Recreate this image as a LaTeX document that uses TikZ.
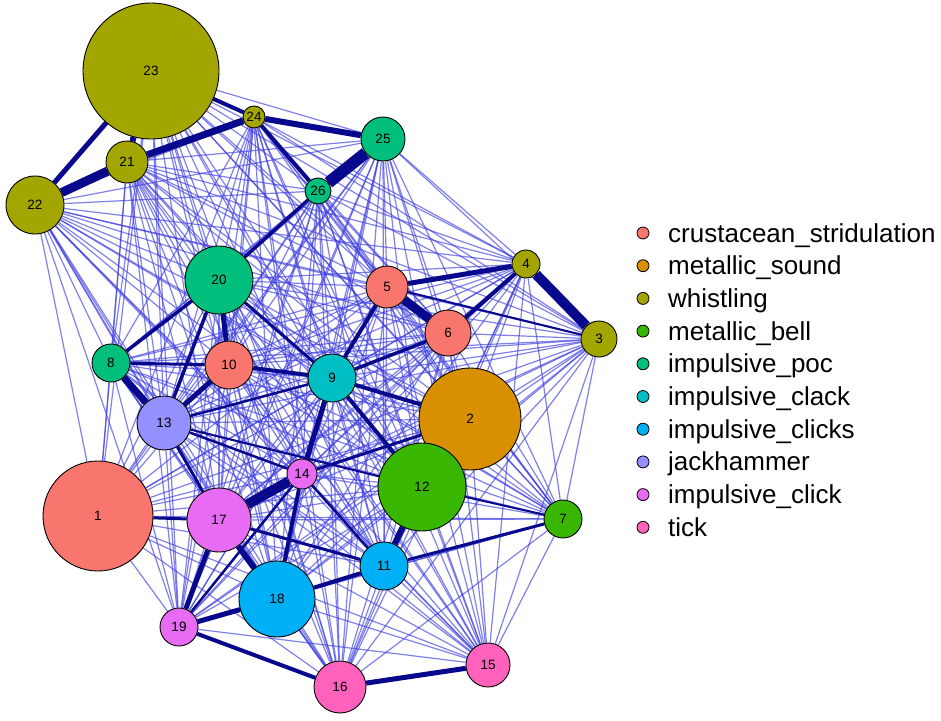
\documentclass[tikz,border=0pt]{standalone}
\usepackage{fontspec}
\setmainfont{Liberation Sans}
\usepackage{tikz}
\pgfdeclarelayer{background}
\pgfsetlayers{background,main}

\definecolor{crust}{HTML}{F8766D}
\definecolor{metsound}{HTML}{D89000}
\definecolor{whist}{HTML}{A3A500}
\definecolor{metbell}{HTML}{39B600}
\definecolor{poc}{HTML}{00BF7D}
\definecolor{clack}{HTML}{00BFC4}
\definecolor{clicks}{HTML}{00B0F6}
\definecolor{jack}{HTML}{9590FF}
\definecolor{click}{HTML}{E76BF3}
\definecolor{tick}{HTML}{FF62BC}
\definecolor{linklight}{RGB}{60,60,225}
\definecolor{linkdark}{RGB}{8,8,140}

\begin{document}
\begin{tikzpicture}[x=1pt,y=-1pt]
% Styles for vertices, links and the key
\tikzstyle{vertex}=[circle, draw=black, line width=0.9pt, inner sep=0pt, font=\fontsize{13.5}{15}\selectfont]
\tikzstyle{thinlink}=[draw=linklight, line width=1.2pt, opacity=0.65]
\tikzstyle{heavylink}=[draw=linkdark]
\tikzstyle{keydot}=[circle, draw=black, line width=0.8pt, inner sep=0pt, minimum size=12pt]
\tikzstyle{keytext}=[anchor=base west, inner sep=0pt, font=\fontsize{26}{30}\selectfont]
\useasboundingbox (0,0) rectangle (941,720);
% Define the 26 vertices: number/x/y/radius/class colour
\foreach \n/\x/\y/\r/\c in {1/98/516/55/crust, 2/470/419/51/metsound, 3/599/339/18/whist,
  4/526/264/14/whist, 5/387/287/21/crust, 6/448/333/23/crust, 7/563/519/19/metbell,
  8/111/363/19/poc, 9/332/378/24/clack, 10/229/365/24/crust, 11/384/566/24/clicks,
  12/422/487/44/metbell, 13/164/423/27/jack, 14/302/474/15/click, 15/488/665/22/tick,
  16/340/687/26/tick, 17/219/520/32/click, 18/277/599/38/clicks, 19/179/627/19/click,
  20/219/280/34/poc, 21/127/162/21/whist, 22/35/205/29/whist, 23/151/71/68/whist,
  24/254/117/11/whist, 25/383/139/22/poc, 26/318/191/13/poc}
  \node [vertex, fill=\c, minimum size={2*\r*1pt}] (v\n) at (\x,\y) {\n};
\begin{pgfonlayer}{background}
% Every pair is linked
\foreach \i in {1,...,25} {
  \pgfmathtruncatemacro\k{\i+1}
  \foreach \j in {\k,...,26}
    \draw [thinlink] (v\i) -- (v\j);
}
% Strong links: from/to/width
\foreach \a/\b/\w in {22/21/9, 22/23/5, 21/23/6, 21/24/7, 23/24/4, 24/25/6, 24/26/4,
  25/26/12, 26/20/3.5, 4/3/10, 4/5/5, 4/6/4, 5/6/9, 5/9/4, 5/3/2, 9/6/3.5, 9/2/4,
  9/12/4, 9/14/5, 9/10/4, 9/20/3, 20/10/5, 20/8/3.5, 20/13/3.5, 8/13/7, 8/10/3,
  10/13/5, 13/17/3, 13/14/2.5, 13/9/2.5, 13/12/2, 14/17/10, 14/18/4, 14/2/3, 14/11/2.5,
  17/18/6, 17/19/5, 17/1/3, 17/11/3, 18/19/5, 18/11/4, 11/12/6, 11/7/3, 12/7/2,
  16/15/5, 16/19/4, 19/14/2.5}
  \draw [heavylink, line width=\w pt] (v\a) -- (v\b);
\end{pgfonlayer}
% Key
\foreach \lab/\c [count=\k from 0] in {crustacean\_stridulation/crust, metallic\_sound/metsound,
  whistling/whist, metallic\_bell/metbell, impulsive\_poc/poc, impulsive\_clack/clack,
  impulsive\_clicks/clicks, jackhammer/jack, impulsive\_click/click, tick/tick} {
  \node [keydot, fill=\c] (k\k) at (643,{233+32.7*\k}) {};
  \node [keytext] (t\k) at (668,{242+32.7*\k}) {\lab};
}
\end{tikzpicture}
\end{document}
